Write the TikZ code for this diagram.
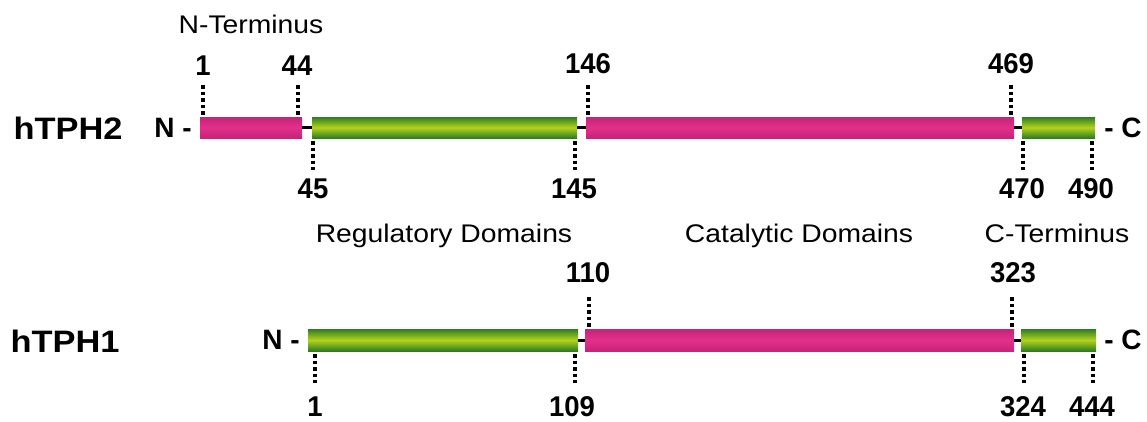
\documentclass[tikz,border=0pt]{standalone}
\usepackage{fontspec}
\setmainfont{Liberation Sans}
\definecolor{pinkmid}{HTML}{E3308B}
\definecolor{pinkedge}{HTML}{C52478}
\definecolor{greenmid}{HTML}{B4D21C}
\definecolor{greenedge}{HTML}{2E7D22}
\tikzset{
  bar/.style={inner sep=0pt, outer sep=0pt, anchor=west, minimum height=21pt},
  pinkbar/.style={bar, top color=pinkedge, bottom color=pinkedge, middle color=pinkmid},
  greenbar/.style={bar, top color=greenedge, bottom color=greenedge, middle color=greenmid},
  linker/.style={line width=3pt, black},
  dots/.style={line width=3.6pt, black, dash pattern=on 3.5pt off 3pt},
  num/.style={inner sep=0pt, font=\fontsize{27.5}{30}\selectfont\bfseries},
  term/.style={inner sep=0pt, font=\fontsize{28}{30}\selectfont\bfseries},
  prot/.style={inner sep=0pt, font=\fontsize{31}{34}\selectfont\bfseries},
  dom/.style={inner sep=0pt, anchor=base, font=\fontsize{25.5}{28}\selectfont},
}
\newcommand{\wide}[1]{\scalebox{1.11}[1]{#1}}
\newcommand{\tall}[1]{\scalebox{1}[1.04]{#1}}
\begin{document}
\begin{tikzpicture}[x=1pt,y=-1pt]
\useasboundingbox (0,0) rectangle (1147,421);
% ---------- hTPH2 ----------
\node[prot] (p2) at (68,128) {\wide{hTPH2}};
\node[term] (n2) at (173,128) {N -};
\node[term] (c2) at (1123,128) {- C};
\node[pinkbar, minimum width=102pt] (a1) at (200,127.5) {};
\node[greenbar, minimum width=265pt] (a2) at (312,127.5) {};
\node[pinkbar, minimum width=428pt] (a3) at (586,127.5) {};
\node[greenbar, minimum width=73pt] (a4) at (1022,127.5) {};
\draw[linker] (a1.east) -- (a2.west);
\draw[linker] (a2.east) -- (a3.west);
\draw[linker] (a3.east) -- (a4.west);
% top labels
\node[dom] (nt) at (251,33) {\wide{N-Terminus}};
\node[num] (l1) at (203,66) {\tall{1}};
\node[num] (l44) at (297,66) {\tall{44}};
\node[num] (l146) at (588,64) {\tall{146}};
\node[num] (l469) at (1011,64) {\tall{469}};
\draw[dots] (203,85) -- (203,116);
\draw[dots] (298,85) -- (298,116);
\draw[dots] (588,85) -- (588,116);
\draw[dots] (1011,85) -- (1011,116);
% bottom labels
\node[num] (l45) at (313,189) {\tall{45}};
\node[num] (l145) at (574,189) {\tall{145}};
\node[num] (l470) at (1022,189) {\tall{470}};
\node[num] (l490) at (1091,189) {\tall{490}};
\draw[dots] (313,141) -- (313,170);
\draw[dots] (575,141) -- (575,170);
\draw[dots] (1023,141) -- (1023,170);
\draw[dots] (1092,141) -- (1092,170);
% domain captions
\node[dom] (reg) at (444,242) {\wide{Regulatory Domains}};
\node[dom] (cat) at (799,242) {\wide{Catalytic Domains}};
\node[dom] (ct) at (1057,242) {\wide{C-Terminus}};
% ---------- hTPH1 ----------
\node[prot] (p1) at (65,341) {\wide{hTPH1}};
\node[term] (n1) at (281,340) {N -};
\node[term] (c1) at (1123,340) {- C};
\node[greenbar, minimum width=270pt, minimum height=22pt] (b1) at (308,340) {};
\node[pinkbar, minimum width=429pt, minimum height=22pt] (b2) at (585,340) {};
\node[greenbar, minimum width=75pt, minimum height=22pt] (b3) at (1021,340) {};
\draw[linker] (b1.east) -- (b2.west);
\draw[linker] (b2.east) -- (b3.west);
\node[num] (m110) at (588,273) {\tall{110}};
\node[num] (m323) at (1013,273) {\tall{323}};
\draw[dots] (589,297) -- (589,328);
\draw[dots] (1012,297) -- (1012,328);
\node[num] (m1) at (315,407) {\tall{1}};
\node[num] (m109) at (572,407) {\tall{109}};
\node[num] (m324) at (1023,407) {\tall{324}};
\node[num] (m444) at (1092,407) {\tall{444}};
\draw[dots] (315,354) -- (315,383);
\draw[dots] (575,354) -- (575,383);
\draw[dots] (1024,354) -- (1024,383);
\draw[dots] (1093,354) -- (1093,383);
\end{tikzpicture}
\end{document}
